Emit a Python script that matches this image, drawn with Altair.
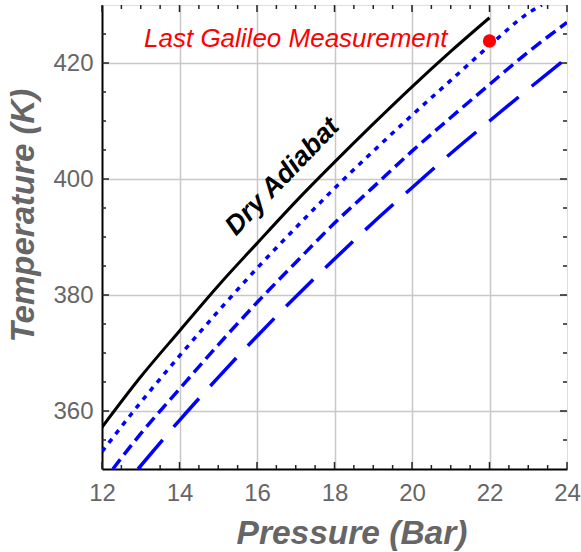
import altair as alt
import pandas as pd

# ---- data ----
P_dry = [12, 13, 14, 15, 16, 17, 18, 19, 20, 21, 22]
T_dry = [357.2, 365.9, 373.8, 381.6, 388.9, 396.1, 402.9, 409.5, 415.9, 422.0, 427.8]

P_dot = [12, 13, 14, 15, 16, 17, 18, 19, 20, 21, 22, 23, 23.35]
T_dot = [353.0, 361.5, 369.5, 377.2, 384.6, 391.6, 398.4, 404.8, 411.0, 417.0, 423.0, 428.6, 430.0]

P_dash = [12.28, 13, 14, 15, 16, 17, 18, 19, 20, 21, 22, 23, 24]
T_dash = [350.0, 356.1, 363.8, 371.4, 378.7, 385.6, 392.4, 398.6, 404.8, 410.6, 416.3, 421.9, 427.0]

P_long = [12.93, 14, 15, 16, 17, 18, 19, 20, 21, 22, 23, 24]
T_long = [350.0, 358.4, 365.8, 372.9, 379.7, 386.2, 392.5, 398.5, 404.4, 410.0, 415.5, 420.9]

point_P = [22]
point_T = [423.8]

label_texts = ["Dry Adiabat", "Last Galileo Measurement"]
label_P = [16.66, 17.0]
label_T = [400.4, 422.8]

x_major = [12, 14, 16, 18, 20, 22, 24]
x_minor = [12.5, 13, 13.5, 14.5, 15, 15.5, 16.5, 17, 17.5, 18.5, 19, 19.5,
           20.5, 21, 21.5, 22.5, 23, 23.5]
y_major = [360, 380, 400, 420]
y_minor = [355, 365, 370, 375, 385, 390, 395, 405, 410, 415, 425]

X_LO, X_HI = 12, 24
Y_LO, Y_HI = 350, 430

FONT = "Liberation Sans"
GRAY = "#666666"
W, H = 465, 464

xs = alt.Scale(domain=[X_LO, X_HI], nice=False, zero=False)
ys = alt.Scale(domain=[Y_LO, Y_HI], nice=False, zero=False)

x_main = alt.Axis(
    orient="bottom", values=x_major, labelFontSize=24, labelColor=GRAY, labelFont=FONT,
    labelPadding=12, labelFlush=False, ticks=False, domain=True, domainColor="black",
    domainWidth=2, grid=True, gridColor="#c8c8c8", gridWidth=1.5,
    gridOpacity={"condition": {"test": "datum.value == 12 || datum.value == 24", "value": 0}, "value": 1},
    title="Pressure (Bar)", titleFontSize=33.5, titleFontStyle="italic", titleFontWeight="bold",
    titleColor=GRAY, titleFont=FONT, titleX=249.5, titleY=74, titleAlign="center",
    titleBaseline="alphabetic", format="d")

y_main = alt.Axis(
    orient="left", values=y_major, labelFontSize=24, labelColor=GRAY, labelFont=FONT,
    labelPadding=9, ticks=False, domain=True, domainColor="black", domainWidth=2,
    grid=True, gridColor="#c8c8c8", gridWidth=1.5,
    title="Temperature (K)", titleFontSize=33, titleFontStyle="italic", titleFontWeight="bold",
    titleColor=GRAY, titleFont=FONT, titleAngle=270, titleX=-69, titleY=210,
    titleAlign="center", titleBaseline="alphabetic", format="d")

dry = pd.DataFrame({"P": P_dry, "T": T_dry})
dot = pd.DataFrame({"P": P_dot, "T": T_dot})
dash = pd.DataFrame({"P": P_dash, "T": T_dash})
longd = pd.DataFrame({"P": P_long, "T": T_long})
pt = pd.DataFrame({"P": point_P, "T": point_T})
lab = pd.DataFrame({"P": label_P, "T": label_T, "text": label_texts})

X = lambda f: alt.X(f, type="quantitative", scale=xs, axis=None)
Y = lambda f: alt.Y(f, type="quantitative", scale=ys, axis=None)

l1 = alt.Chart(dry).mark_line(color="black", strokeWidth=3, clip=True, interpolate="monotone").encode(
    x=alt.X("P:Q", scale=xs, axis=x_main), y=alt.Y("T:Q", scale=ys, axis=y_main))

l2 = alt.Chart(dot).mark_line(color="#0000ff", strokeWidth=3.5, strokeDash=[5, 6], clip=True,
                              interpolate="monotone").encode(x=X("P"), y=Y("T"))
l3 = alt.Chart(dash).mark_line(color="#0000ff", strokeWidth=3.5, strokeDash=[12, 6], clip=True,
                               interpolate="monotone").encode(x=X("P"), y=Y("T"))
l4 = alt.Chart(longd).mark_line(color="#0000ff", strokeWidth=3.5, strokeDash=[38, 17], clip=True,
                                interpolate="monotone").encode(x=X("P"), y=Y("T"))
l5 = alt.Chart(pt).mark_circle(color="#ff0000", size=175, opacity=1).encode(x=X("P"), y=Y("T"))

t1 = alt.Chart(lab.iloc[[0]]).mark_text(
    font=FONT, fontSize=27, fontStyle="italic", fontWeight="bold", color="black",
    angle=314, align="center", baseline="middle").encode(x=X("P"), y=Y("T"), text="text:N")

t2 = alt.Chart(lab.iloc[[1]]).mark_text(
    font=FONT, fontSize=26, fontStyle="italic", color="#ff0000",
    align="center", baseline="alphabetic").encode(x=X("P"), y=Y("T"), text="text:N")

# inward frame ticks as rules (lengths in pixels converted to data units)
px_x = (X_HI - X_LO) / W
px_y = (Y_HI - Y_LO) / H
rows = []
for vals, ln in [(x_major, 7), (x_minor, 4)]:
    for v in vals:
        rows.append({"x": v, "x2": v, "y": Y_LO, "y2": Y_LO + ln * px_y})
        rows.append({"x": v, "x2": v, "y": Y_HI, "y2": Y_HI - ln * px_y})
for vals, ln in [(y_major, 7), (y_minor, 4)]:
    for v in vals:
        rows.append({"x": X_LO, "x2": X_LO + ln * px_x, "y": v, "y2": v})
        rows.append({"x": X_HI, "x2": X_HI - ln * px_x, "y": v, "y2": v})
ticks_df = pd.DataFrame(rows)

ticks = alt.Chart(ticks_df).mark_rule(color="#222222", strokeWidth=1.5).encode(
    x=X("x"), x2="x2", y=Y("y"), y2="y2")

chart = alt.layer(l1, ticks, l2, l3, l4, l5, t1, t2).resolve_axis(
    x="independent", y="independent"
).properties(
    width=W, height=H, autosize="none",
    padding={"left": 102, "top": 5, "right": 14, "bottom": 83},
).configure_view(stroke="black", strokeWidth=2).configure(background="white")

chart.save("out.html", embed_options={"renderer": "svg", "actions": False})
